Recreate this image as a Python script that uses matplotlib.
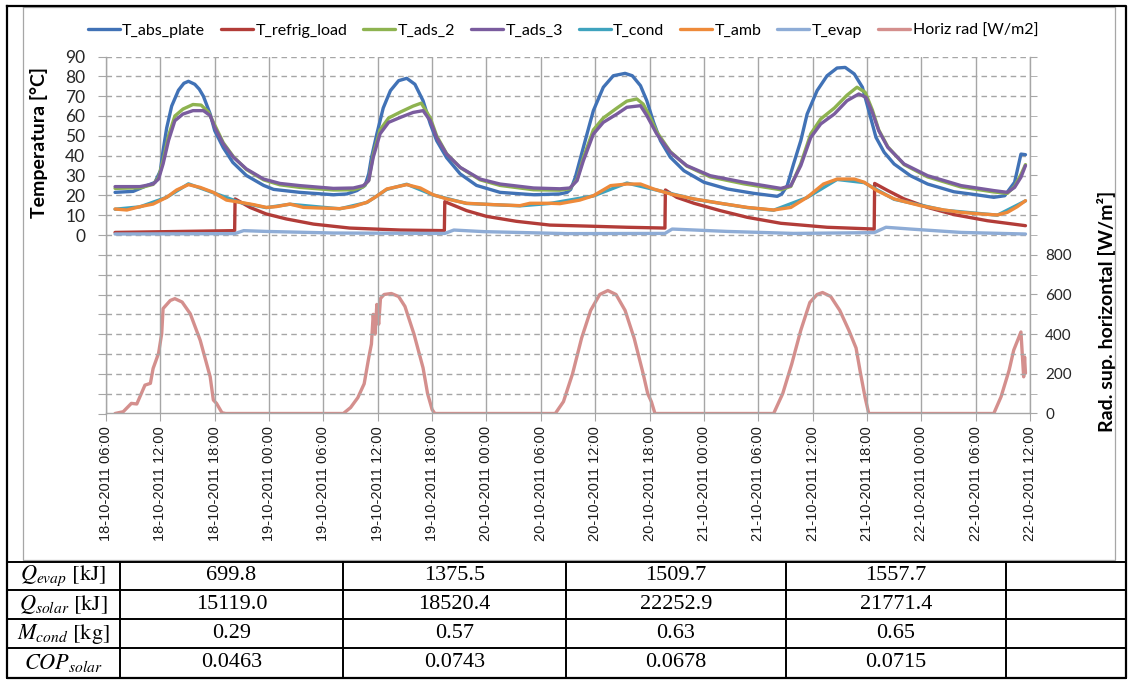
import matplotlib
matplotlib.use('Agg')
import matplotlib.pyplot as plt
import numpy as np
import pandas as pd

# ---------------- data (hours after 18-10-2011 06:00, value) ----------------
start = pd.Timestamp('2011-10-18 06:00')
end = pd.Timestamp('2011-10-22 12:00')

abs_plate = [(1.0, 21.5), (3.0, 22.0), (4.5, 24.9), (5.4, 26.5), (6.0, 32.4), (6.3, 42.5), (6.7, 54.0),
             (7.25, 65.0), (8.0, 73.0), (8.6, 76.5), (9.1, 77.5), (9.8, 76.0), (10.3, 73.5), (10.75, 70.0),
             (11.5, 61.0), (12.0, 52.6), (12.95, 44.0), (14.0, 36.6), (15.5, 30.0), (17.4, 25.0), (18.5, 23.0),
             (21.4, 21.5), (25.1, 20.3), (26.6, 20.7), (27.7, 22.4), (28.6, 25.0), (29.0, 30.8), (29.3, 39.0),
             (29.9, 51.0), (30.6, 64.0), (31.4, 72.8), (32.3, 77.8), (33.2, 79.0), (34.1, 76.0), (35.0, 67.7),
             (35.8, 56.0), (36.5, 47.6), (37.6, 39.0), (39.1, 30.8), (40.9, 25.0), (43.5, 21.5), (47.2, 20.3),
             (50.1, 20.7), (50.9, 21.5), (51.3, 23.0), (51.8, 29.0), (52.3, 37.5), (53.1, 51.0), (53.8, 62.7),
             (54.9, 74.5), (56.0, 80.3), (57.3, 81.5), (58.1, 80.3), (59.0, 75.3), (59.7, 67.7), (60.45, 56.8),
             (61.2, 47.6), (62.3, 39.2), (63.8, 32.4), (66.0, 26.6), (68.6, 23.2), (71.5, 21.0), (74.1, 19.5),
             (74.6, 20.7), (75.2, 24.9), (75.9, 35.8), (76.7, 47.6), (77.4, 61.0), (78.5, 72.8), (79.6, 80.3),
             (80.7, 84.2), (81.6, 84.5), (82.6, 81.2), (83.5, 74.5), (84.2, 62.7), (85.0, 49.2), (85.9, 41.7),
             (87.0, 35.8), (88.8, 29.9), (90.7, 25.7), (93.6, 21.8), (96.2, 20.2), (98.0, 19.0), (99.2, 19.8),
             (100.3, 26.6), (101.0, 40.8), (101.5, 40.5)]

refrig_load = [(1.0, 1.3), (14.2, 2.2), (14.25, 18.2), (15.9, 13.9), (17.7, 10.6), (19.9, 8.1), (22.9, 5.5),
               (26.9, 3.5), (32.5, 2.5), (37.35, 2.2), (37.4, 16.8), (39.8, 12.3), (42.0, 9.4), (45.3, 6.9),
               (49.0, 5.0), (53.8, 4.4), (57.5, 3.9), (61.7, 3.5), (61.75, 22.7), (63.0, 19.0), (64.9, 16.0),
               (67.8, 12.3), (70.8, 8.9), (74.5, 5.9), (79.6, 3.9), (84.8, 3.0), (84.85, 26.0), (86.3, 22.4),
               (88.1, 18.2), (90.7, 13.9), (93.6, 10.3), (97.3, 7.2), (101.5, 4.7)]

ads_2 = [(1.0, 23.5), (3.75, 23.8), (5.2, 25.5), (5.8, 29.0), (6.3, 37.5), (6.9, 50.0), (7.6, 60.0), (8.5, 63.5),
         (9.6, 65.8), (10.5, 65.5), (11.3, 62.0), (12.0, 55.5), (12.95, 46.5), (14.06, 39.5), (15.5, 33.0),
         (17.4, 27.8), (19.2, 25.3), (21.4, 24.0), (25.1, 22.7), (27.3, 22.8), (28.4, 24.3), (29.0, 27.5),
         (29.5, 40.5), (30.25, 53.0), (31.2, 59.0), (32.5, 62.0), (33.9, 65.0), (34.8, 66.5), (35.8, 59.0),
         (36.5, 50.0), (37.6, 41.0), (39.1, 34.0), (41.3, 27.8), (43.5, 25.0), (47.2, 22.8), (50.1, 22.6),
         (51.2, 23.3), (52.0, 28.0), (52.7, 39.0), (53.8, 53.0), (54.9, 59.0), (56.4, 64.0), (57.5, 67.5),
         (58.6, 68.6), (59.3, 66.0), (60.0, 60.0), (60.8, 52.0), (62.3, 42.0), (64.1, 34.8), (66.7, 29.3),
         (70.4, 25.8), (74.5, 22.8), (75.6, 24.5), (76.7, 36.0), (77.8, 51.0), (78.9, 58.5), (80.4, 64.0),
         (81.8, 70.5), (82.9, 74.5), (83.8, 72.0), (84.6, 63.0), (85.3, 53.0), (86.3, 44.5), (88.1, 35.5),
         (90.7, 29.3), (94.4, 24.2), (98.0, 21.7), (99.5, 21.0), (100.3, 24.5), (101.0, 30.5), (101.5, 35.5)]

ads_3 = [(1.0, 24.4), (3.75, 24.4), (5.2, 25.7), (5.8, 28.2), (6.3, 35.8), (6.9, 47.6), (7.6, 57.6), (8.5, 61.0),
         (9.6, 62.7), (10.75, 62.7), (11.5, 60.2), (12.0, 54.3), (12.95, 45.9), (14.06, 39.2), (15.5, 33.3),
         (17.4, 28.2), (19.2, 26.0), (21.4, 24.9), (25.1, 23.5), (27.3, 23.7), (28.4, 24.9), (29.0, 27.4),
         (29.5, 39.2), (30.25, 51.0), (31.2, 56.8), (32.5, 59.3), (33.9, 61.8), (35.0, 62.7), (35.8, 57.6),
         (36.5, 49.2), (37.6, 40.8), (39.1, 34.1), (41.3, 28.2), (43.5, 25.7), (47.2, 23.7), (50.1, 23.3),
         (51.2, 23.7), (52.0, 27.4), (52.7, 37.5), (53.8, 50.9), (54.9, 56.8), (56.4, 61.0), (57.5, 64.4),
         (59.0, 65.2), (59.7, 60.2), (60.8, 50.9), (62.3, 41.7), (64.1, 35.0), (66.7, 29.9), (70.4, 26.6),
         (74.5, 23.5), (75.6, 24.9), (76.7, 35.0), (77.8, 49.2), (78.9, 56.0), (80.4, 61.0), (81.8, 67.7),
         (83.1, 71.1), (83.9, 69.4), (84.6, 61.8), (85.3, 52.6), (86.3, 44.2), (88.1, 35.8), (90.7, 29.9),
         (94.4, 24.9), (98.0, 22.4), (99.5, 21.5), (100.3, 24.0), (101.0, 29.1), (101.5, 35.0)]

amb = [(1.0, 13.1), (2.3, 12.6), (3.75, 14.3), (5.2, 15.6), (6.7, 19.0), (7.8, 22.7), (9.1, 25.4), (10.4, 24.0),
       (11.85, 21.5), (13.3, 17.6), (14.8, 16.5), (16.3, 15.3), (17.7, 13.9), (18.8, 14.3), (20.3, 15.6),
       (21.8, 13.9), (23.6, 13.6), (25.8, 13.3), (27.3, 14.3), (28.8, 16.5), (29.7, 19.0), (31.0, 23.2),
       (33.2, 25.4), (34.7, 23.7), (36.1, 20.3), (37.6, 18.2), (39.8, 16.0), (42.8, 15.3), (45.7, 14.8),
       (46.8, 16.0), (49.0, 16.0), (50.1, 15.8), (52.3, 17.6), (53.8, 19.8), (55.7, 24.9), (57.5, 25.7),
       (59.0, 25.7), (60.45, 23.2), (62.3, 20.7), (64.9, 18.2), (67.8, 16.0), (70.8, 13.9), (73.7, 12.6),
       (75.6, 13.9), (77.4, 19.0), (79.2, 25.7), (80.7, 28.2), (82.6, 28.2), (83.7, 26.6), (85.1, 22.4),
       (87.0, 18.2), (89.9, 14.8), (92.5, 12.6), (94.4, 11.4), (96.6, 10.6), (98.4, 10.1), (99.5, 11.4),
       (100.6, 14.3), (101.5, 17.3)]

cond = [(1.0, 13.0), (3.75, 14.2), (6.7, 19.0), (9.1, 25.8), (11.85, 21.3), (14.8, 16.4), (17.7, 13.8),
        (20.3, 15.5), (25.8, 13.2), (28.8, 16.4), (31.0, 23.0), (33.2, 25.6), (36.1, 20.2), (39.8, 15.9),
        (45.7, 14.7), (49.0, 15.9), (53.8, 19.7), (57.5, 26.2), (60.45, 23.0), (64.9, 18.1), (70.8, 13.8),
        (73.7, 12.5), (77.4, 18.9), (80.7, 28.0), (83.7, 26.4), (87.0, 18.0), (92.5, 12.5), (98.4, 10.0),
        (101.5, 17.2)]

evap = [(1.0, 0.5), (14.2, 0.7), (15.2, 2.2), (17.7, 1.8), (25.1, 1.0), (37.4, 0.8), (38.4, 2.5), (41.7, 1.7),
        (50.9, 0.7), (61.7, 0.8), (62.5, 3.0), (68.6, 1.8), (75.9, 0.8), (84.8, 1.2), (86.1, 3.9), (88.8, 3.0),
        (94.4, 1.3), (101.5, 0.5)]

horiz_rad = [(1.0, 0), (1.9, 9), (2.8, 51), (3.4, 48), (4.3, 143), (4.9, 152), (5.2, 227), (5.8, 303),
             (6.15, 403), (6.3, 529), (7.1, 570), (7.6, 579), (8.4, 562), (9.3, 503), (10.4, 369), (11.5, 185),
             (11.85, 68), (12.2, 51), (12.8, 4), (13.2, 0), (26.2, 0), (27.0, 30), (27.8, 80), (28.5, 150),
             (29.0, 280), (29.3, 350), (29.5, 500), (29.7, 400), (29.9, 550), (30.1, 450), (30.3, 580),
             (30.7, 600), (31.5, 605), (32.3, 590), (33.0, 540), (34.0, 400), (35.0, 230), (35.5, 100),
             (36.0, 20), (36.3, 0), (49.6, 0), (50.5, 60), (51.5, 200), (52.5, 380), (53.5, 520), (54.5, 600),
             (55.4, 620), (56.3, 600), (57.3, 520), (58.3, 380), (59.3, 200), (59.8, 100), (60.2, 60),
             (60.6, 0), (73.7, 0), (74.7, 100), (75.7, 250), (76.7, 420), (77.7, 560), (78.5, 600),
             (79.1, 610), (80.0, 590), (81.0, 520), (82.0, 420), (82.8, 330), (83.3, 200), (83.8, 80),
             (84.2, 0), (98.0, 0), (98.8, 84), (99.7, 219), (100.2, 319), (101.0, 411), (101.3, 185),
             (101.4, 285), (101.5, 203)]

series_names = ['T_abs_plate', 'T_refrig_load', 'T_ads_2', 'T_ads_3', 'T_cond', 'T_amb', 'T_evap']
series_data = [abs_plate, refrig_load, ads_2, ads_3, cond, amb, evap]
series_colors = ['#4172B6', '#B23C38', '#8EB350', '#7A5C9E', '#3FA3BE', '#EE8A3A', '#8EACD6']
rad_name = 'Horiz rad [W/m2]'
rad_color = '#D48F8D'

x_ticks = pd.date_range(start, end, freq='6h')
x_tick_labels = [t.strftime('%d-%m-%Y %H:%M') for t in x_ticks]

temp_ticks = list(range(-90, 91, 10))
rad_ticks = list(range(0, 1801, 200))

table_row_labels = [r'$Q_{evap}\ \mathrm{[kJ]}$', r'$Q_{solar}\ \mathrm{[kJ]}$',
                    r'$M_{cond}\ \mathrm{[kg]}$', r'$COP_{solar}$']
q_evap = [699.8, 1375.5, 1509.7, 1557.7]
q_solar = [15119.0, 18520.4, 22252.9, 21771.4]
m_cond = [0.29, 0.57, 0.63, 0.65]
cop_solar = [0.0463, 0.0743, 0.0678, 0.0715]
table_rows = [[f'{v:.1f}' for v in q_evap], [f'{v:.1f}' for v in q_solar],
              [f'{v:.2f}' for v in m_cond], [f'{v:.4f}' for v in cop_solar]]


def to_xy(pairs):
    h = np.array([p[0] for p in pairs], dtype=float)
    v = np.array([p[1] for p in pairs], dtype=float)
    t = (start + pd.to_timedelta(h, unit='h')).to_pydatetime()
    return t, v


# ---------------- figure ----------------
plt.rcParams['font.family'] = ['Lato', 'DejaVu Sans']
plt.rcParams['mathtext.fontset'] = 'stix'

W, H = 1129, 680
fig = plt.figure(figsize=(W / 100, H / 100), dpi=100)


def fx(px):
    return px / W


def fy(py):
    return 1 - py / H


grid_c = '#A6A6A6'
ax = fig.add_axes([fx(106), fy(413.5), fx(1030) - fx(106), fy(56.5) - fy(413.5)])
ax.set_zorder(2)
ax.patch.set_visible(False)
ax2 = ax.twinx()
ax2.set_zorder(1)

handles = []
for name, data, col in zip(series_names, series_data, series_colors):
    t, v = to_xy(data)
    ln, = ax.plot(t, v, color=col, lw=2.4, label=name, solid_joinstyle='round', solid_capstyle='round')
    handles.append(ln)
t, v = to_xy(horiz_rad)
ln, = ax2.plot(t, v, color=rad_color, lw=2.4, label=rad_name, solid_joinstyle='round', solid_capstyle='round')
handles.append(ln)

ax.set_xlim(start.to_pydatetime(), end.to_pydatetime())
ax.set_ylim(-90, 90)
ax2.set_ylim(0, 1800)

ax.set_xticks(list(x_ticks.to_pydatetime()))
ax.set_xticklabels(x_tick_labels, rotation=90, fontfamily='Liberation Sans', fontsize=10.5, color='#1a1a1a')
ax.set_yticks(temp_ticks)
ax.set_yticklabels([str(v) if v >= 0 else '' for v in temp_ticks], fontsize=12.5, color='#262626')
ax2.set_yticks(rad_ticks)
ax2.set_yticklabels([str(v) if v <= 800 else '' for v in rad_ticks], fontsize=11, color='#262626')
ax2.set_yticks(list(range(100, 1800, 200)), minor=True)

ax.tick_params(axis='x', length=6, color=grid_c, pad=3)
ax.tick_params(axis='y', length=6, color=grid_c, pad=9)
ax2.tick_params(axis='y', which='both', length=5, color=grid_c, pad=6)

ax.yaxis.grid(True, linestyle=(0, (4, 3)), color=grid_c, lw=1)
ax.xaxis.grid(True, linestyle='-', color=grid_c, lw=1)
ax.set_axisbelow(True)

for a in (ax, ax2):
    for s in a.spines.values():
        s.set_color(grid_c)
        s.set_linewidth(1)
    a.spines['top'].set_visible(False)
ax.spines['right'].set_visible(False)
ax2.spines['left'].set_visible(False)
ax2.spines['bottom'].set_visible(False)

ax.set_ylabel('Temperatura [°C]', fontsize=14, fontweight='bold')
ax.yaxis.set_label_coords((48 - 106) / 924, (413.5 - 143) / 357)
ax2.set_ylabel('Rad. sup. horizontal [W/m²]', fontsize=14, fontweight='bold', rotation=90)
ax2.yaxis.set_label_coords((1097 - 106) / 924, (413.5 - 311) / 357)

fig.legend(handles, [h.get_label() for h in handles], loc='center', bbox_to_anchor=(fx(563), fy(31)),
           ncol=8, frameon=False, fontsize=11.5, handlelength=2.0, handletextpad=0.15, columnspacing=1.0)

# ---------------- frame and table ----------------
tax = fig.add_axes([0, 0, 1, 1])
tax.set_xlim(0, W)
tax.set_ylim(H, 0)
tax.axis('off')
tax.set_zorder(5)

tax.plot([23, 1115, 1115, 23, 23], [7, 7, 560, 560, 7], color=grid_c, lw=0.9)
tax.plot([7, 1126, 1126, 7, 7], [6, 6, 677.5, 677.5, 6], color='black', lw=1.6)

row_edges = [562, 590, 619, 648, 677.5]
col_edges = [7, 120, 343, 566, 786, 1006, 1126]
for y in row_edges:
    tax.plot([7, 1126], [y, y], color='black', lw=1.4)
for x in col_edges:
    tax.plot([x, x], [562, 677.5], color='black', lw=1.4)

for i, lab in enumerate(table_row_labels):
    yc = (row_edges[i] + row_edges[i + 1]) / 2
    tax.text((col_edges[0] + col_edges[1]) / 2, yc, lab, ha='center', va='center', fontsize=16)
    for j, val in enumerate(table_rows[i]):
        xc = (col_edges[j + 1] + col_edges[j + 2]) / 2
        tax.text(xc, yc, val, ha='center', va='center', fontsize=16, fontfamily='Liberation Serif')

fig.savefig('out.png', dpi=100)
